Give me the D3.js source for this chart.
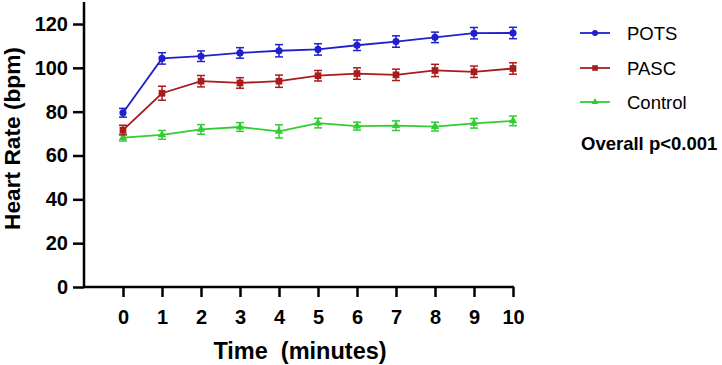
<!DOCTYPE html>
<html><head><meta charset="utf-8">
<script src="https://cdn.jsdelivr.net/npm/d3@7"></script>
<style>body{margin:0;background:#fff}svg{display:block}</style>
</head><body>
<svg id="c" width="722" height="365"></svg>
<script>
const times = [0,1,2,3,4,5,6,7,8,9,10];
const potsMean = [79.5,104.3,105.3,106.8,107.8,108.4,110.3,112.0,113.9,115.8,115.9];
const potsErr  = [2.0,2.6,2.4,2.4,2.8,2.6,2.4,2.6,2.4,2.6,2.6];
const pascMean = [71.6,88.4,93.9,93.1,93.9,96.4,97.4,96.8,98.8,98.2,99.7];
const pascErr  = [2.2,3.2,2.6,2.4,2.8,2.4,2.6,2.6,2.8,2.6,2.6];
const ctrlMean = [68.2,69.4,71.9,73.0,71.0,74.8,73.4,73.6,73.2,74.7,75.8];
const ctrlErr  = [1.6,2.0,2.2,2.0,3.0,2.2,1.8,2.2,2.0,2.2,2.2];
const seriesNames = ["POTS","PASC","Control"];
const seriesColors = ["#2020cc","#a81c1c","#33cc33"];
const yTicks = [0,20,40,60,80,100,120];

const svg = d3.select("#c");
const x = d3.scaleLinear().domain([-1,10]).range([84,513]);
const y = d3.scaleLinear().domain([0,120]).range([287,24]);
const font = "'Liberation Sans', Arial, sans-serif";

const series = [
  {name: seriesNames[0], mean: potsMean, err: potsErr, color: seriesColors[0], sym: d3.symbolCircle, size: 40},
  {name: seriesNames[1], mean: pascMean, err: pascErr, color: seriesColors[1], sym: d3.symbolSquare, size: 45},
  {name: seriesNames[2], mean: ctrlMean, err: ctrlErr, color: seriesColors[2], sym: d3.symbolTriangle, size: 30}
];

// axes
const yAxis = svg.append("g").attr("transform","translate(84,0)")
  .call(d3.axisLeft(y).tickValues(yTicks).tickSize(11).tickSizeOuter(0).tickPadding(5));
yAxis.select(".domain").remove();
yAxis.append("line").attr("x1",0).attr("x2",0).attr("y1",2).attr("y2",288).attr("stroke","#000").attr("stroke-width",2.5);
yAxis.selectAll(".tick line").attr("stroke-width",2.5);
yAxis.selectAll("text").attr("font-family",font).attr("font-weight","bold").attr("font-size",20).attr("fill","#000");

const xAxis = svg.append("g").attr("transform","translate(0,287)")
  .call(d3.axisBottom(x).tickValues(times).tickFormat(d3.format("d")).tickSize(10).tickSizeOuter(0).tickPadding(13));
xAxis.select(".domain").remove();
xAxis.append("line").attr("x1",83).attr("x2",514).attr("y1",0).attr("y2",0).attr("stroke","#000").attr("stroke-width",2.5);
xAxis.selectAll(".tick line").attr("stroke-width",2.5);
xAxis.selectAll("text").attr("font-family",font).attr("font-weight","bold").attr("font-size",20).attr("fill","#000");

svg.append("text").attr("transform","translate(19.5,138.5) rotate(-90)").attr("text-anchor","middle")
  .attr("font-family",font).attr("font-weight","bold").attr("font-size",22.7)
  .text("Heart Rate (bpm)");
svg.append("text").attr("x",300).attr("y",359).attr("text-anchor","middle").attr("font-family",font)
  .attr("font-weight","bold").attr("font-size",23.5).style("white-space","pre").text("Time  (minutes)");

const line = d3.line().x((d,i)=>x(times[i])).y(d=>y(d));
series.slice().reverse().forEach(s=>{
  const g = svg.append("g");
  g.append("path").attr("d",line(s.mean)).attr("fill","none").attr("stroke",s.color).attr("stroke-width",1.8);
  s.mean.forEach((m,i)=>{
    const cx = x(times[i]), y1 = y(m+s.err[i]), y2 = y(m-s.err[i]);
    g.append("line").attr("x1",cx).attr("x2",cx).attr("y1",y1).attr("y2",y2).attr("stroke",s.color).attr("stroke-width",1.5);
    g.append("line").attr("x1",cx-4).attr("x2",cx+4).attr("y1",y1).attr("y2",y1).attr("stroke",s.color).attr("stroke-width",1.5);
    g.append("line").attr("x1",cx-4).attr("x2",cx+4).attr("y1",y2).attr("y2",y2).attr("stroke",s.color).attr("stroke-width",1.5);
    g.append("path").attr("d",d3.symbol().type(s.sym).size(s.size)()).attr("transform",`translate(${cx},${y(m)})`).attr("fill",s.color);
  });
});

// legend
const legY = [33,68,102];
series.forEach((s,i)=>{
  const g = svg.append("g").attr("transform",`translate(0,${legY[i]})`);
  g.append("line").attr("x1",580).attr("x2",610).attr("stroke",s.color).attr("stroke-width",1.8);
  g.append("path").attr("d",d3.symbol().type(s.sym).size(s.size*0.7)()).attr("transform","translate(595,0)").attr("fill",s.color);
  g.append("text").attr("x",627).attr("y",0).attr("dy","0.36em").attr("font-family",font)
    .attr("font-size",18.5).attr("fill","#000").text(s.name);
});
svg.append("text").attr("x",581).attr("y",150).attr("font-family",font).attr("font-weight","bold")
  .attr("font-size",18.5).attr("fill","#000").text("Overall p<0.001");
</script>
</body></html>
